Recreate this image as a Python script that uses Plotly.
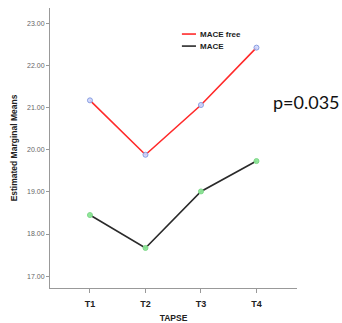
import plotly.graph_objects as go

# Estimated marginal means of TAPSE at four time points
timepoints = ["T1", "T2", "T3", "T4"]
mace_free = [21.17, 19.88, 21.06, 22.42]
mace = [18.45, 17.67, 19.01, 19.73]
y_ticks = [17, 18, 19, 20, 21, 22, 23]
y_tick_labels = ["17.00", "18.00", "19.00", "20.00", "21.00", "22.00", "23.00"]
series_names = ["MACE free", "MACE"]
series_colors = ["#ff2a2a", "#2a2a2a"]
p_text = "p=0.035"

x_idx = list(range(len(timepoints)))

fig = go.Figure()
fig.add_trace(go.Scatter(
    x=x_idx, y=mace_free, name=series_names[0], mode="lines+markers",
    line=dict(color=series_colors[0], width=1.6), showlegend=False,
    marker=dict(size=5, color="rgba(205,215,255,0.9)",
                line=dict(color="#8a9ee0", width=1)),
))
fig.add_trace(go.Scatter(
    x=x_idx, y=mace, name=series_names[1], mode="lines+markers",
    line=dict(color=series_colors[1], width=1.6), showlegend=False,
    marker=dict(size=5, color="rgba(140,230,150,0.95)",
                line=dict(color="#7fd88a", width=1)),
))

# compact key: short line swatch followed by a bold label
key_rows = [0.907, 0.864]
for name, color, yk in zip(series_names, series_colors, key_rows):
    fig.add_shape(type="line", xref="paper", yref="paper",
                  x0=0.534, x1=0.591, y0=yk, y1=yk,
                  line=dict(color=color, width=1.6))
    fig.add_annotation(text="<b>%s</b>" % name, xref="paper", yref="paper",
                       x=0.599, y=yk, xanchor="left", yanchor="middle",
                       showarrow=False,
                       font=dict(size=8, color="#222",
                                 family="Liberation Sans, Arial, sans-serif"))

fig.add_annotation(
    text=p_text, xref="paper", yref="paper", x=0.895, y=0.665,
    xanchor="left", yanchor="middle", showarrow=False,
    font=dict(family="Lato, Open Sans, sans-serif", size=18, color="#111"),
)

fig.update_layout(
    width=342, height=323,
    margin=dict(l=50, r=45, t=8, b=35),
    paper_bgcolor="white", plot_bgcolor="white",
    font=dict(family="Liberation Sans, Arial, sans-serif"),
    showlegend=False,
    xaxis=dict(
        tickmode="array", tickvals=x_idx, ticktext=["<b>%s</b>" % t for t in timepoints],
        range=[-0.72, 3.73], showgrid=False, zeroline=False,
        showline=True, linecolor="#999", linewidth=1,
        ticks="outside", ticklen=4, tickcolor="#999",
        ticklabelstandoff=3, automargin=False,
        tickfont=dict(size=9, color="#222"),
        title=dict(text="<b>TAPSE</b>", font=dict(size=8.5, color="#222"), standoff=9),
    ),
    yaxis=dict(
        tickmode="array", tickvals=y_ticks, ticktext=y_tick_labels,
        range=[16.72, 23.36], showgrid=False, zeroline=False,
        showline=True, linecolor="#999", linewidth=1,
        ticks="outside", ticklen=3, tickcolor="#999",
        tickfont=dict(size=7, color="#666"),
        title=dict(text="<b>Estimated Marginal Means</b>", font=dict(size=8.5, color="#222"), standoff=8),
    ),
)

fig.write_html("out.html")
